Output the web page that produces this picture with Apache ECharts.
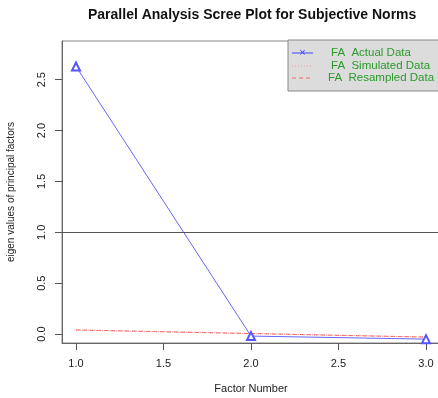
<!DOCTYPE html>
<html>
<head>
<meta charset="utf-8">
<script src="https://cdn.jsdelivr.net/npm/echarts@6/dist/echarts.min.js"></script>
<style>html,body{margin:0;padding:0;background:#fff}#c{width:438px;height:398px}</style>
</head>
<body>
<div id="c"></div>
<script>
const factors = [1, 2, 3];
const actualData = [2.63, -0.02, -0.05];
const simulatedData = [0.04, 0.005, -0.03];
const resampledData = [0.04, 0.005, -0.03];
const xTicks = [1.0, 1.5, 2.0, 2.5, 3.0];
const yTicks = [0.0, 0.5, 1.0, 1.5, 2.0, 2.5];
const legendNames = ['FA  Actual Data', 'FA  Simulated Data', 'FA  Resampled Data'];

const FONT = '"Liberation Sans", Arial, sans-serif';
const pair = (xs, ys) => xs.map((x, i) => [x, ys[i]]);

const chart = echarts.init(document.getElementById('c'));
chart.setOption({
  animation: false,
  backgroundColor: '#fff',
  title: {
    text: 'Parallel Analysis Scree Plot for Subjective Norms',
    left: 88, top: 8, padding: 0,
    textStyle: { fontFamily: FONT, fontSize: 14, fontWeight: 'bold', color: '#111' }
  },
  grid: { left: 62, top: 41, right: -2, bottom: 55, show: true, borderColor: '#888', borderWidth: 1, backgroundColor: 'transparent', containLabel: false, outerBoundsMode: 'none' },
  xAxis: {
    type: 'value', min: 0.92, max: 3.08,
    name: 'Factor Number', nameLocation: 'middle', nameGap: 40,
    nameTextStyle: { fontFamily: FONT, fontSize: 11, color: '#222' },
    axisLine: { show: true, onZero: false, lineStyle: { color: '#666' } },
    splitLine: { show: false },
    axisTick: { show: true, length: 7, customValues: xTicks, lineStyle: { color: '#555' } },
    axisLabel: { customValues: xTicks, formatter: v => v.toFixed(1), margin: 15, fontFamily: FONT, fontSize: 11, color: '#222' }
  },
  yAxis: {
    type: 'value', min: -0.088, max: 2.88,
    name: 'eigen values of principal factors', nameLocation: 'middle', nameGap: 46, nameRotate: 90,
    nameTextStyle: { fontFamily: FONT, fontSize: 10, color: '#222' },
    axisLine: { show: true, onZero: false, lineStyle: { color: '#666' } },
    splitLine: { show: false },
    axisTick: { show: true, length: 7, customValues: yTicks, lineStyle: { color: '#555' } },
    axisLabel: { customValues: yTicks, rotate: 90, formatter: v => v.toFixed(1), margin: 15, fontFamily: FONT, fontSize: 11, color: '#222' }
  },
  series: [
    {
      name: legendNames[1], type: 'line', data: pair(factors, simulatedData),
      symbol: 'none', lineStyle: { color: '#ff9999', width: 1, type: 'dotted' }, z: 2
    },
    {
      name: legendNames[2], type: 'line', data: pair(factors, resampledData),
      symbol: 'none', lineStyle: { color: '#ff6666', width: 1, type: [4, 3] }, z: 3
    },
    {
      name: legendNames[0], type: 'line', data: pair(factors, actualData),
      symbol: 'emptyTriangle', symbolSize: 8,
      itemStyle: { color: '#5555ff', borderColor: '#5555ff', borderWidth: 1 },
      lineStyle: { color: '#6666ff', width: 1 }, z: 4,
      markLine: {
        silent: true, symbol: 'none', label: { show: false },
        lineStyle: { color: '#555', width: 1, type: 'solid' },
        data: [{ yAxis: 1 }]
      }
    }
  ],
  graphic: [
    { type: 'rect', shape: { x: 288, y: 40, width: 152, height: 51 }, style: { fill: '#dcdcdc', stroke: '#888', lineWidth: 1 }, z: 10 },
    { type: 'line', shape: { x1: 292, y1: 53, x2: 313, y2: 53 }, style: { stroke: '#4444ff', lineWidth: 1 }, z: 11 },
    { type: 'text', style: { x: 302.5, y: 53, text: '×', fill: '#4444ff', font: '11px ' + FONT, align: 'center', verticalAlign: 'middle' }, z: 11 },
    { type: 'line', shape: { x1: 292, y1: 66, x2: 313, y2: 66 }, style: { stroke: '#ff9999', lineWidth: 1, lineDash: [1, 2] }, z: 11 },
    { type: 'line', shape: { x1: 292, y1: 78, x2: 313, y2: 78 }, style: { stroke: '#ff6666', lineWidth: 1, lineDash: [4, 3] }, z: 11 },
    { type: 'text', style: { x: 331, y: 53, text: legendNames[0], fill: '#2a9a2a', font: '11.5px ' + FONT, verticalAlign: 'middle' }, z: 11 },
    { type: 'text', style: { x: 331, y: 66, text: legendNames[1], fill: '#2a9a2a', font: '11.5px ' + FONT, verticalAlign: 'middle' }, z: 11 },
    { type: 'text', style: { x: 328, y: 78, text: legendNames[2], fill: '#2a9a2a', font: '11.5px ' + FONT, verticalAlign: 'middle' }, z: 11 }
  ]
});
</script>
</body>
</html>
